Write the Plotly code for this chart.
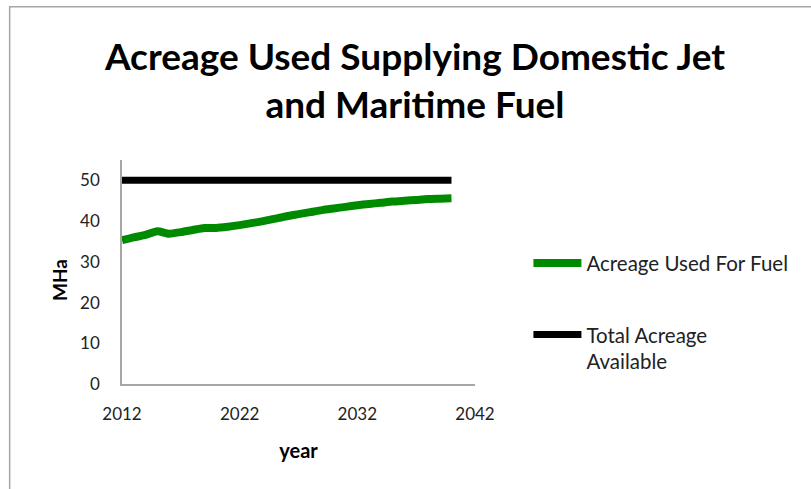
import plotly.graph_objects as go

years = list(range(2012, 2041))
acreage_used = [35.3, 36.0, 36.6, 37.5, 36.9, 37.3, 37.8, 38.3, 38.3, 38.6,
                39.0, 39.5, 40.0, 40.6, 41.2, 41.7, 42.2, 42.7, 43.1, 43.5,
                43.9, 44.2, 44.5, 44.8, 45.0, 45.2, 45.4, 45.5, 45.6]
total_available = [50] * len(years)

title_text = "Acreage Used Supplying Domestic Jet<br>and Maritime Fuel"
series_names = ["Acreage Used For Fuel", "Total Acreage<br>Available"]
x_ticks = [2012, 2022, 2032, 2042]
y_ticks = [0, 10, 20, 30, 40, 50]

FONT = "Lato, Carlito, Calibri, sans-serif"

W, H = 811, 489
L, R, T, B = 122, 475.5, 159.5, 384.5
pw, ph = R - L, B - T

fig = go.Figure()
fig.add_trace(go.Scatter(x=years, y=acreage_used, mode="lines", name=series_names[0],
                         line=dict(color="#008a00", width=8, shape="spline", smoothing=0.6),
                         legendgroup="a"))
fig.add_trace(go.Scatter(x=years, y=total_available, mode="lines", name=series_names[1],
                         line=dict(color="#000000", width=7), legendgroup="b"))

fig.update_layout(
    width=W, height=H,
    margin=dict(l=L, r=W - R, t=T, b=H - B, autoexpand=False),
    paper_bgcolor="white", plot_bgcolor="white",
    font=dict(family=FONT, color="#222222", size=17),
    title=dict(text=title_text, x=415 / W, xanchor="center",
               y=1 - 70 / H, yanchor="middle",
               font=dict(family=FONT, size=37, color="#000000", weight="bold")),
    showlegend=True,
    legend=dict(x=(529 - L) / pw, xanchor="left", y=(B - 243) / ph, yanchor="top",
                font=dict(family=FONT, size=20.5, color="#222222"),
                itemwidth=48, tracegroupgap=42, traceorder="grouped", valign="top",
                bgcolor="rgba(0,0,0,0)"),
    xaxis=dict(range=[2012, 2042], tickvals=x_ticks, showgrid=False, zeroline=False,
               showline=True, linecolor="#a6a6a6", linewidth=1.5, ticks="",
               tickfont=dict(family=FONT, size=17, color="#222222"), ticklabelstandoff=14,
               title=dict(text="year", standoff=21,
                          font=dict(family=FONT, size=20, color="#000000", weight="bold"))),
    yaxis=dict(range=[0, 55], tickvals=y_ticks, showgrid=False, zeroline=False,
               showline=True, linecolor="#a6a6a6", linewidth=1.5, ticks="",
               tickfont=dict(family=FONT, size=17, color="#222222"), ticklabelstandoff=17),
)

# y-axis title placed where the reference shows it
fig.add_annotation(text="MHa", textangle=-90, xref="paper", yref="paper",
                   x=(60 - L) / pw, y=(B - 280) / ph, xanchor="center", yanchor="middle",
                   showarrow=False,
                   font=dict(family=FONT, size=19, color="#000000", weight="bold"))

# outer chart frame (partially visible in the reference)
fig.add_shape(type="rect", xref="paper", yref="paper",
              x0=(9.5 - L) / pw, x1=(W + 50 - L) / pw,
              y0=(B - (H + 50)) / ph, y1=(B - 5.5) / ph,
              line=dict(color="#a6a6a6", width=1.5), fillcolor="rgba(0,0,0,0)", layer="below")

fig.write_html("out.html", config={"displayModeBar": False},
               post_script="document.body.style.margin='0';")
